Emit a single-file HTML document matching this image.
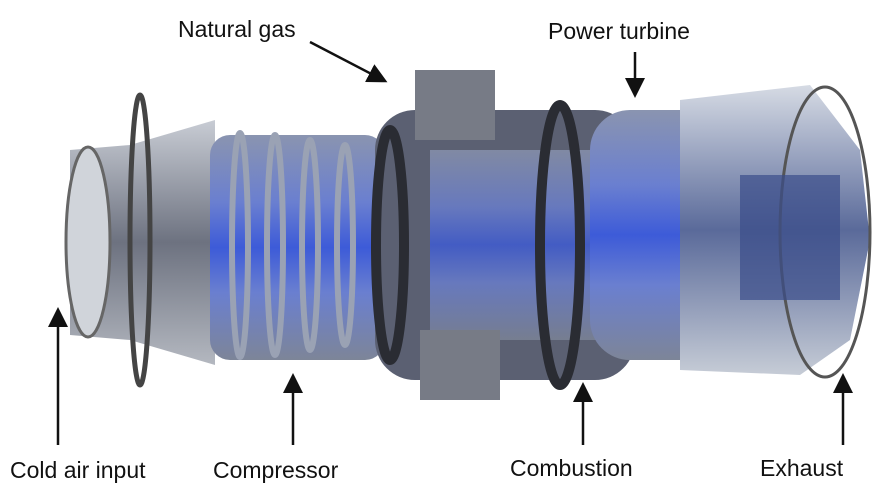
<!DOCTYPE html>
<html><head><meta charset="utf-8"><style>
html,body{margin:0;padding:0;background:#fff}
svg{display:block}
text{font-family:"Liberation Sans",sans-serif;font-size:23px;fill:#111}
</style></head><body>
<svg width="893" height="500" viewBox="0 0 893 500">
<defs>
<linearGradient id="blue" x1="0" y1="0" x2="0" y2="1">
<stop offset="0" stop-color="#8a94b0"/><stop offset="0.3" stop-color="#6a7fd0"/><stop offset="0.5" stop-color="#3d5bd8"/><stop offset="0.7" stop-color="#6a7fd0"/><stop offset="1" stop-color="#7d8598"/></linearGradient>
<linearGradient id="grey" x1="0" y1="0" x2="0" y2="1">
<stop offset="0" stop-color="#c8ccd4"/><stop offset="0.5" stop-color="#6d7280"/><stop offset="1" stop-color="#b4b8c0"/></linearGradient>
<linearGradient id="exh" x1="0" y1="0" x2="0" y2="1">
<stop offset="0" stop-color="#d6dbe4"/><stop offset="0.5" stop-color="#5a6a9a"/><stop offset="1" stop-color="#c6ccd6"/></linearGradient>
<marker id="ah" markerWidth="8" markerHeight="8" refX="6" refY="4" orient="auto"><path d="M0,0 L8,4 L0,8 z" fill="#111"/></marker>
</defs>
<polygon points="70,150 130,145 215,120 215,365 130,340 70,335" fill="url(#grey)"/>
<ellipse cx="88" cy="242" rx="22" ry="95" fill="#d0d4da" stroke="#666" stroke-width="3"/>
<ellipse cx="140" cy="240" rx="10" ry="145" fill="none" stroke="#444" stroke-width="5"/>
<rect x="210" y="135" width="175" height="225" rx="20" fill="url(#blue)"/>
<g stroke="#9aa2b4" stroke-width="6" fill="none">
<ellipse cx="240" cy="245" rx="8" ry="112"/><ellipse cx="275" cy="245" rx="8" ry="110"/><ellipse cx="310" cy="245" rx="8" ry="105"/><ellipse cx="345" cy="245" rx="8" ry="100"/></g>
<rect x="375" y="110" width="260" height="270" rx="40" fill="#5b6072"/>
<rect x="430" y="150" width="170" height="190" fill="url(#blue)" opacity="0.8"/>
<g stroke="#2a2c33" stroke-width="10" fill="none">
<ellipse cx="390" cy="245" rx="14" ry="115"/><ellipse cx="560" cy="245" rx="20" ry="140"/></g>
<rect x="415" y="70" width="80" height="70" fill="#777b86"/>
<rect x="420" y="330" width="80" height="70" fill="#777b86"/>
<rect x="590" y="110" width="130" height="250" rx="40" fill="url(#blue)"/>
<polygon points="680,100 810,85 860,150 870,240 850,340 800,375 680,370" fill="url(#exh)"/>
<ellipse cx="825" cy="232" rx="45" ry="145" fill="none" stroke="#555" stroke-width="3"/>
<rect x="740" y="175" width="100" height="125" fill="#3a4d8a" opacity="0.7"/>
<text x="178" y="37">Natural gas</text>
<text x="548" y="39">Power turbine</text>
<text x="10" y="478">Cold air input</text>
<text x="213" y="478">Compressor</text>
<text x="510" y="476">Combustion</text>
<text x="760" y="476">Exhaust</text>
<g stroke="#111" stroke-width="2.5" marker-end="url(#ah)">
<line x1="310" y1="42" x2="383" y2="80"/>
<line x1="635" y1="52" x2="635" y2="93"/>
<line x1="58" y1="445" x2="58" y2="312"/>
<line x1="293" y1="445" x2="293" y2="378"/>
<line x1="583" y1="445" x2="583" y2="387"/>
<line x1="843" y1="445" x2="843" y2="378"/>
</g>
</svg>
</body></html>
